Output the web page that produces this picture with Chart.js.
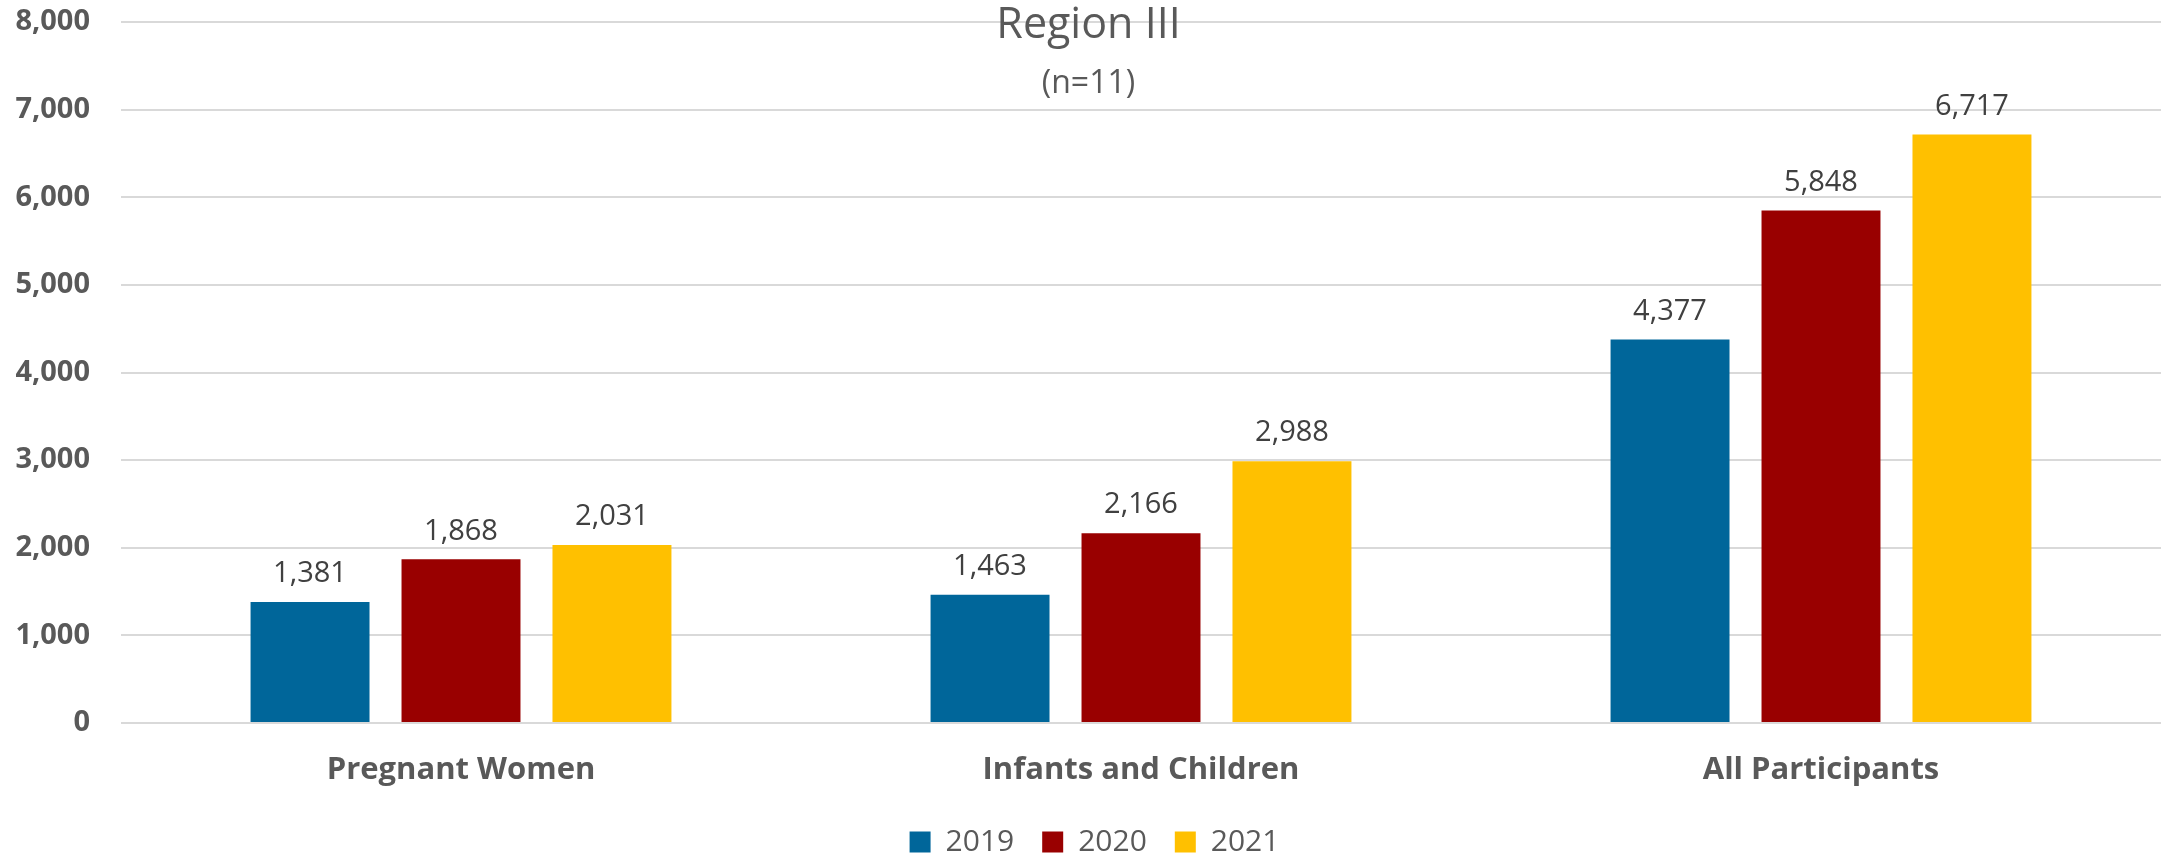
<!DOCTYPE html>
<html>
<head>
<meta charset="utf-8">
<title>Region III</title>
<script src="https://cdn.jsdelivr.net/npm/chart.js@4.4.0/dist/chart.umd.min.js"></script>
<style>
    html, body { margin: 0; padding: 0; background: #fff; }
    #wrap { width: 2165px; height: 855px; }
</style>
</head>
<body>
<div id="wrap"><canvas id="regionChart" width="2165" height="855"></canvas></div>
<script>
const categories = ['Pregnant Women', 'Infants and Children', 'All Participants'];
const years = ['2019', '2020', '2021'];
const values2019 = [1381, 1463, 4377];
const values2020 = [1868, 2166, 5848];
const values2021 = [2031, 2988, 6717];
const yMin = 0;
const yMax = 8000;
const yStep = 1000;
const chartTitle = 'Region III';
const chartSubtitle = '(n=11)';

const barColors = ['#00669A', '#990000', '#FFC000'];
const textGrey = '#595959';
const fontFamily = '"Open Sans", "Noto Sans", sans-serif';

const fmt = v => v.toLocaleString('en-US');

// value labels above each bar
const valueLabels = {
    id: 'valueLabels',
    afterDatasetsDraw(chart) {
        const ctx = chart.ctx;
        ctx.save();
        ctx.font = '29px ' + fontFamily;
        ctx.fillStyle = '#404040';
        ctx.textAlign = 'center';
        ctx.textBaseline = 'middle';
        chart.data.datasets.forEach((ds, i) => {
            chart.getDatasetMeta(i).data.forEach((bar, j) => {
                ctx.fillText(fmt(ds.data[j]), bar.x, bar.y - 28);
            });
        });
        ctx.restore();
    }
};

// title sits over the plot area, like the original
const overlayTitle = {
    id: 'overlayTitle',
    afterDraw(chart) {
        const ctx = chart.ctx;
        const cx = chart.width / 2 + 6;
        ctx.save();
        ctx.fillStyle = textGrey;
        ctx.textAlign = 'center';
        ctx.textBaseline = 'middle';
        ctx.font = '43px ' + fontFamily;
        ctx.fillText(chartTitle, cx, 26);
        ctx.font = '32px ' + fontFamily;
        ctx.fillText(chartSubtitle, cx, 84);
        ctx.restore();
    }
};

// legend in the original sits a little right of the canvas centre
const nudgeLegend = {
    id: 'nudgeLegend',
    afterLayout(chart) {
        if (chart.legend) {
            chart.legend.left += 14;
            chart.legend.right += 14;
        }
    }
};

new Chart(document.getElementById('regionChart'), {
    type: 'bar',
    data: {
        labels: categories,
        datasets: [
            { label: years[0], data: values2019, backgroundColor: barColors[0] },
            { label: years[1], data: values2020, backgroundColor: barColors[1] },
            { label: years[2], data: values2021, backgroundColor: barColors[2] }
        ]
    },
    options: {
        responsive: false,
        animation: false,
        devicePixelRatio: 1,
        categoryPercentage: 0.666,
        barPercentage: 0.788,
        layout: { padding: { top: 22, right: 4, left: 0, bottom: -12 } },
        plugins: {
            legend: {
                position: 'bottom',
                labels: {
                    boxWidth: 21,
                    boxHeight: 21,
                    padding: 28,
                    color: textGrey,
                    font: { family: fontFamily, size: 30 }
                }
            },
            tooltip: { enabled: false }
        },
        scales: {
            x: {
                afterFit: scale => { scale.height = 76; },
                grid: { display: false },
                border: { display: false },
                ticks: {
                    color: textGrey,
                    padding: 21,
                    font: { family: fontFamily, size: 31, weight: 'bold' }
                }
            },
            y: {
                min: yMin,
                max: yMax,
                afterFit: scale => {
                    scale.width = 121;
                    scale.paddingTop = 0;
                    scale.paddingBottom = 0;
                },
                grid: { color: '#D9D9D9', lineWidth: 2, drawTicks: false },
                border: { display: false },
                ticks: {
                    stepSize: yStep,
                    padding: 31,
                    color: textGrey,
                    callback: v => fmt(v),
                    font: { family: fontFamily, size: 29, weight: 'bold' }
                }
            }
        }
    },
    plugins: [valueLabels, overlayTitle, nudgeLegend]
});
</script>
</body>
</html>
